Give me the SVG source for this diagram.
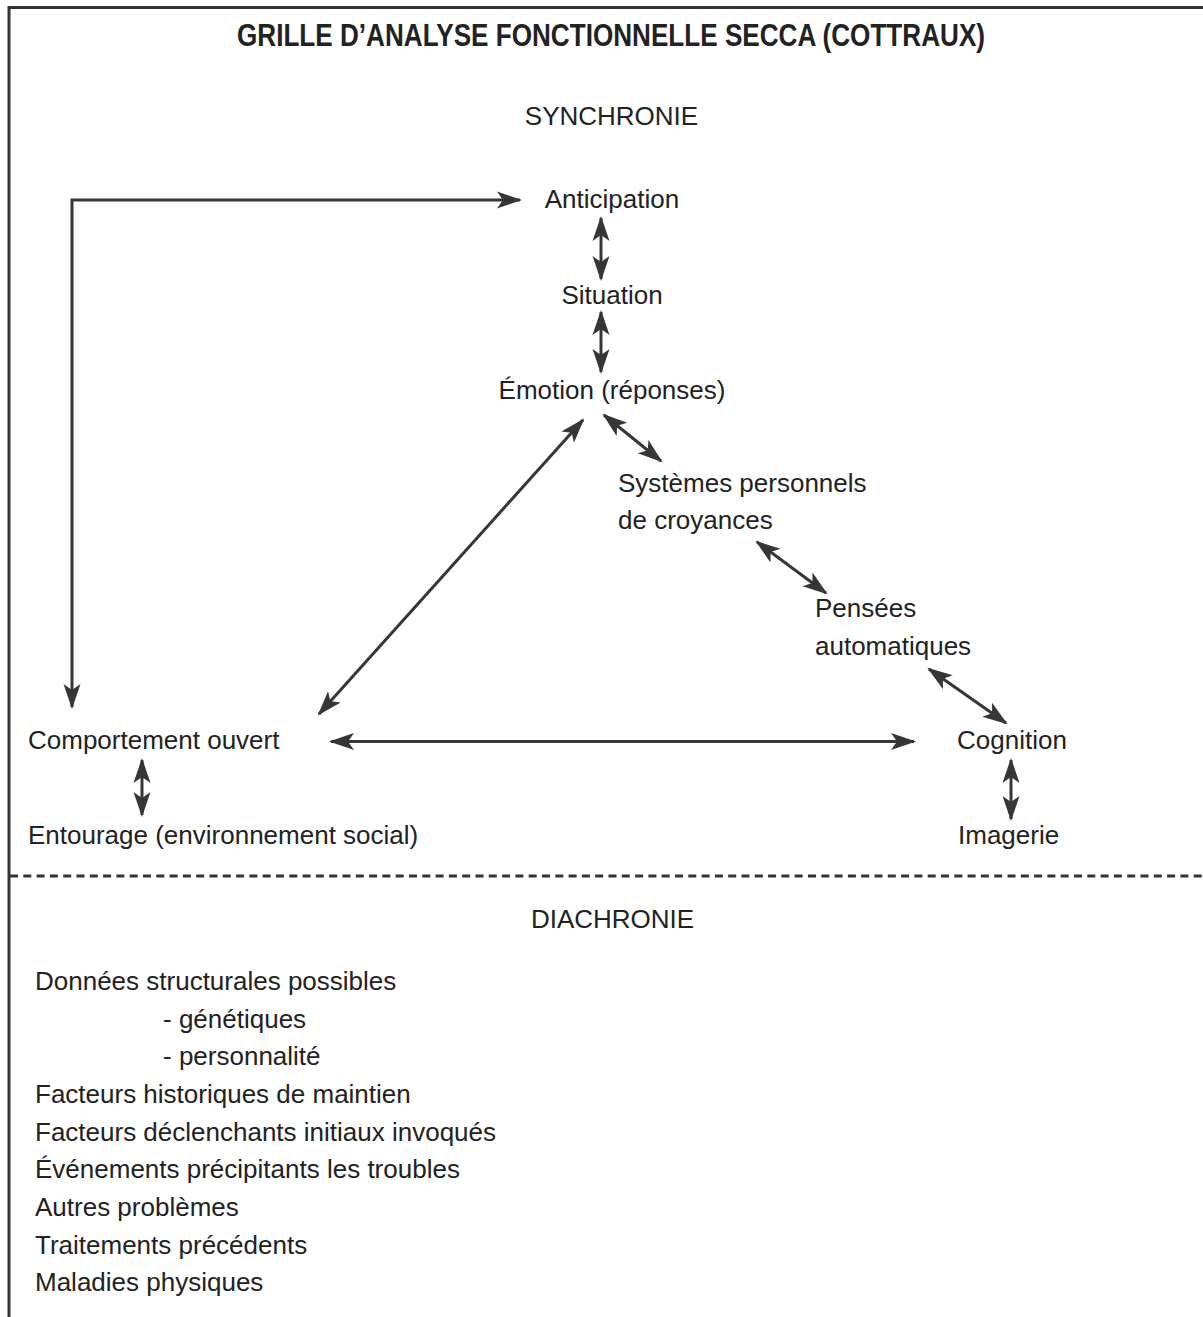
<svg xmlns="http://www.w3.org/2000/svg" width="1203" height="1317" viewBox="0 0 1203 1317">
  <style>
    text { font-family: "Liberation Sans", Arial, sans-serif; font-size: 26px; fill: #222222; }
    .title { font-weight: bold; font-size: 31px; }
    .mid { text-anchor: middle; }
    .frame { fill: none; stroke: #333; stroke-width: 3; }
    .dash { fill: none; stroke: #333; stroke-width: 3; stroke-dasharray: 8 5.3; }
    .link { fill: none; stroke: #363636; stroke-width: 3; marker-start: url(#head); marker-end: url(#head); }
  </style>
  <defs>
    <marker id="head" markerUnits="userSpaceOnUse" markerWidth="28" markerHeight="20" viewBox="0 0 28 20" refX="23" refY="10" orient="auto-start-reverse">
      <path d="M0,1.5 L25,10 L0,18.5 L6,10 Z" fill="#363636"/>
    </marker>
  </defs>

  <rect width="1203" height="1317" fill="#ffffff"/>

  <!-- outer frame (top and left edges) -->
  <path class="frame" d="M9,1317 V7.5 H1203"/>
  <!-- separator between the two sections -->
  <line class="dash" x1="10" y1="876" x2="1203" y2="876"/>

  <!-- headings -->
  <text class="title mid" x="611" y="45.5" textLength="748" lengthAdjust="spacingAndGlyphs">GRILLE D’ANALYSE FONCTIONNELLE SECCA (COTTRAUX)</text>
  <text class="mid" x="611.5" y="125">SYNCHRONIE</text>
  <text class="mid" x="612.5" y="928">DIACHRONIE</text>

  <!-- nodes -->
  <g id="anticipation"><text class="mid" x="612" y="208">Anticipation</text></g>
  <g id="situation"><text class="mid" x="612" y="304">Situation</text></g>
  <g id="emotion"><text class="mid" x="612" y="399">Émotion (réponses)</text></g>
  <g id="croyances">
    <text x="618" y="492">Systèmes personnels</text>
    <text x="618" y="529">de croyances</text>
  </g>
  <g id="pensees">
    <text x="815" y="617">Pensées</text>
    <text x="815" y="655">automatiques</text>
  </g>
  <g id="cognition"><text x="957" y="749">Cognition</text></g>
  <g id="imagerie"><text x="958" y="844">Imagerie</text></g>
  <g id="comportement"><text x="28" y="749">Comportement ouvert</text></g>
  <g id="entourage"><text x="28" y="844">Entourage (environnement social)</text></g>

  <!-- connectors -->
  <g id="connectors">
    <path class="link" d="M520,200 H72 V707"/>
    <line class="link" x1="601" y1="218" x2="601" y2="279"/>
    <line class="link" x1="601" y1="312" x2="601" y2="372"/>
    <line class="link" x1="604" y1="415" x2="661" y2="461"/>
    <line class="link" x1="757" y1="542" x2="826" y2="593"/>
    <line class="link" x1="929" y1="669" x2="1006" y2="723"/>
    <line class="link" x1="1011" y1="760" x2="1011" y2="819"/>
    <line class="link" x1="331" y1="741.5" x2="914" y2="741.5"/>
    <line class="link" x1="142" y1="760" x2="142" y2="815"/>
    <line class="link" x1="583" y1="420" x2="319" y2="714"/>
  </g>

  <!-- diachronic factors -->
  <g id="diachronie-list">
    <text x="35" y="990">Données structurales possibles</text>
    <text x="163" y="1028">- génétiques</text>
    <text x="163" y="1065">- personnalité</text>
    <text x="35" y="1103">Facteurs historiques de maintien</text>
    <text x="35" y="1141">Facteurs déclenchants initiaux invoqués</text>
    <text x="35" y="1178">Événements précipitants les troubles</text>
    <text x="35" y="1216">Autres problèmes</text>
    <text x="35" y="1254">Traitements précédents</text>
    <text x="35" y="1291">Maladies physiques</text>
  </g>
</svg>
